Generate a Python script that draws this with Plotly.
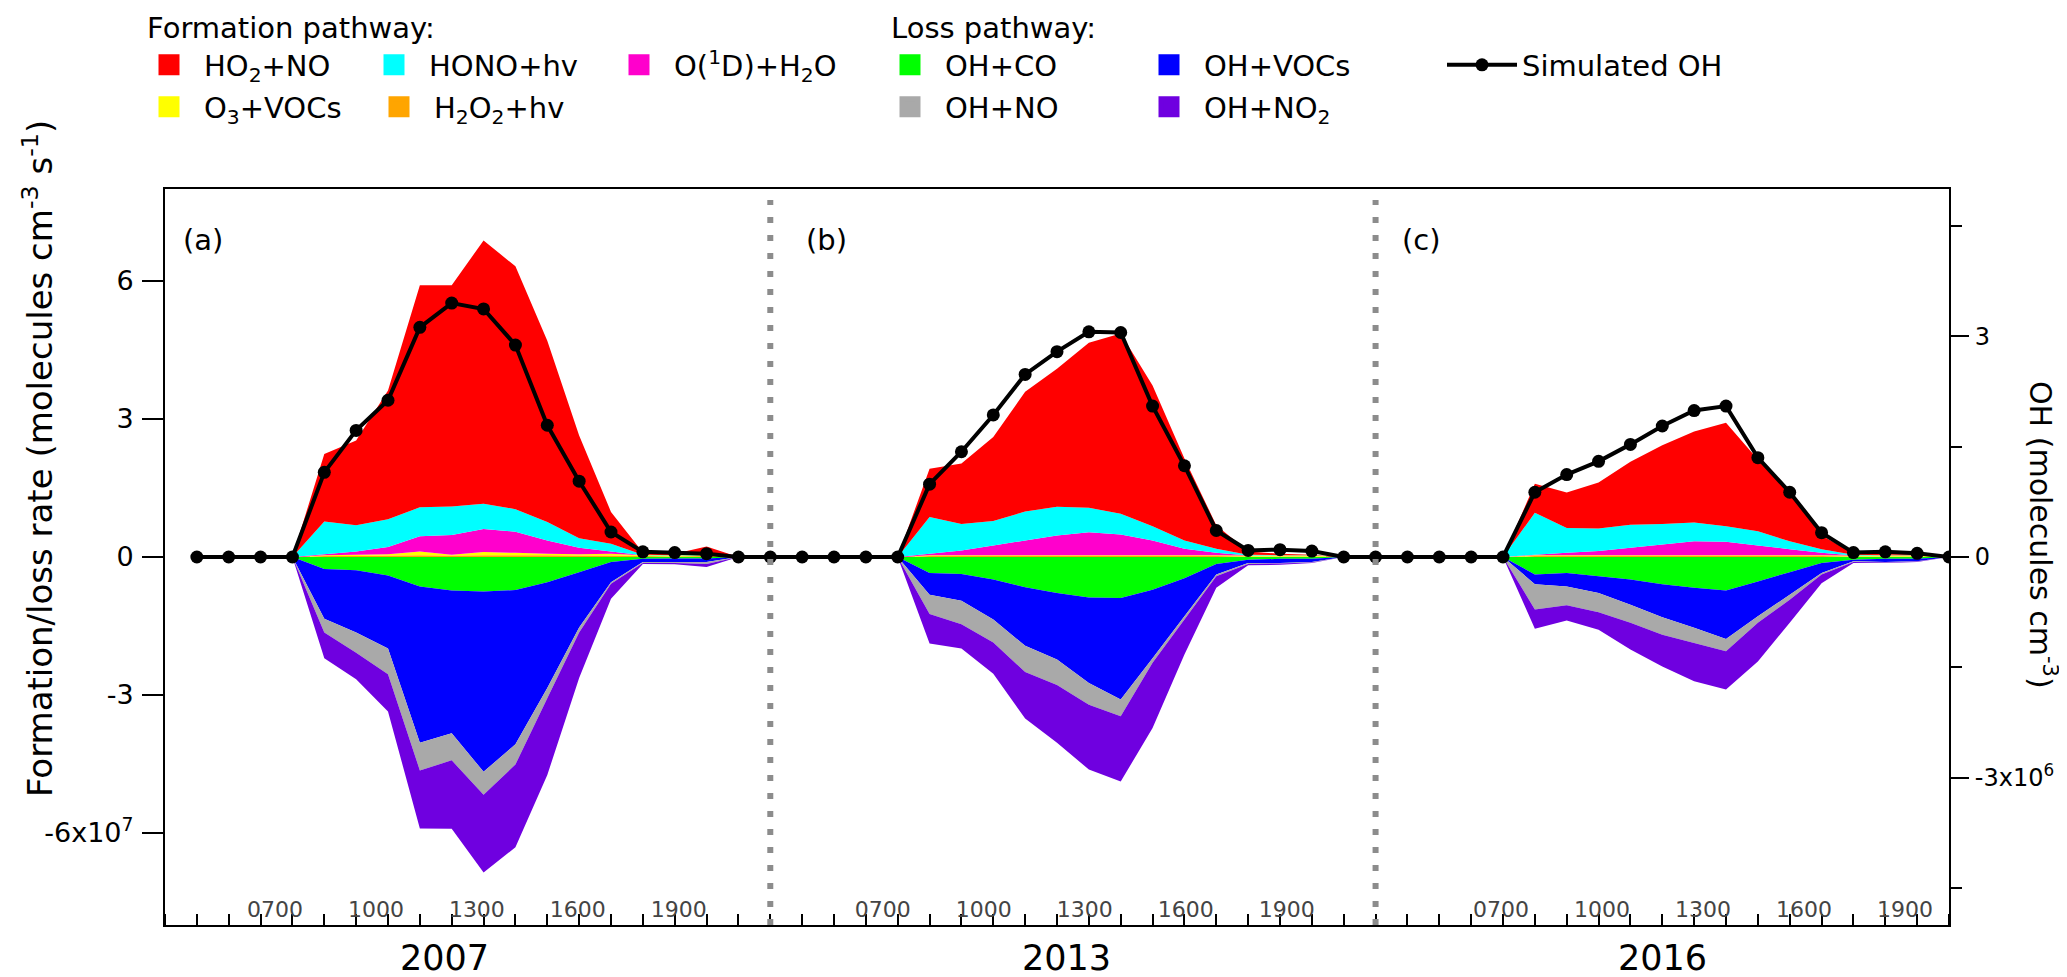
import plotly.graph_objects as go

# ---------------- data ----------------
HOURS = [4, 5, 6, 7, 8, 9, 10, 11, 12, 13, 14, 15, 16, 17, 18, 19, 20, 21]
YEARS = ["2007", "2013", "2016"]
PANEL_TAGS = ["(a)", "(b)", "(c)"]
HOUR_LABELS = ["0700", "1000", "1300", "1600", "1900"]

# formation rates, 1e7 molecules cm-3 s-1, one list per year (2007, 2013, 2016)
HO2_NO = [
    [0, 0, 0, 0, 1.47, 1.84, 2.80, 4.83, 4.81, 5.72, 5.28, 3.94, 2.23, 0.69, 0.05, 0.03, 0.18, 0],
    [0, 0, 0, 0, 1.05, 1.31, 1.83, 2.60, 3.00, 3.59, 3.92, 3.06, 1.78, 0.51, 0.07, 0.03, 0.01, 0],
    [0, 0, 0, 0, 0.63, 0.77, 1.00, 1.37, 1.71, 1.98, 2.25, 1.56, 1.04, 0.30, 0.03, 0.02, 0.02, 0],
]
HONO_HV = [
    [0, 0, 0, 0, 0.71, 0.57, 0.60, 0.63, 0.62, 0.55, 0.49, 0.40, 0.21, 0.17, 0.01, 0.01, 0.01, 0],
    [0, 0, 0, 0, 0.80, 0.58, 0.53, 0.63, 0.62, 0.53, 0.45, 0.31, 0.18, 0.09, 0.02, 0.01, 0.01, 0],
    [0, 0, 0, 0, 0.91, 0.54, 0.49, 0.50, 0.45, 0.41, 0.34, 0.31, 0.17, 0.08, 0.02, 0.01, 0.01, 0],
]
O1D_H2O = [
    [0, 0, 0, 0, 0.02, 0.07, 0.16, 0.33, 0.43, 0.50, 0.46, 0.29, 0.14, 0.05, 0, 0, 0, 0],
    [0, 0, 0, 0, 0.03, 0.10, 0.21, 0.32, 0.43, 0.50, 0.45, 0.32, 0.14, 0.05, 0, 0, 0, 0],
    [0, 0, 0, 0, 0.01, 0.05, 0.09, 0.16, 0.23, 0.30, 0.29, 0.21, 0.13, 0.05, 0, 0, 0, 0],
]
O3_VOCS = [
    [0, 0, 0, 0, 0.02, 0.03, 0.03, 0.08, 0.02, 0.07, 0.05, 0.03, 0.03, 0.04, 0.02, 0.02, 0.02, 0],
    [0, 0, 0, 0, 0.02, 0.02, 0.02, 0.02, 0.02, 0.02, 0.02, 0.02, 0.02, 0.02, 0.02, 0.02, 0.02, 0],
    [0, 0, 0, 0, 0.02, 0.02, 0.02, 0.02, 0.02, 0.02, 0.02, 0.02, 0.02, 0.02, 0.02, 0.02, 0.02, 0],
]
H2O2_HV = [
    [0, 0, 0, 0, 0.02, 0.02, 0.03, 0.04, 0.03, 0.04, 0.04, 0.04, 0.03, 0.03, 0.02, 0.01, 0.02, 0],
    [0, 0, 0, 0, 0.02, 0.02, 0.02, 0.02, 0.02, 0.02, 0.02, 0.02, 0.02, 0.02, 0.01, 0.01, 0.01, 0],
    [0, 0, 0, 0, 0.02, 0.02, 0.02, 0.02, 0.02, 0.02, 0.02, 0.02, 0.02, 0.02, 0.01, 0.01, 0.01, 0],
]
# loss rates (magnitude), 1e7 molecules cm-3 s-1
OH_CO = [
    [0, 0, 0, 0, 0.26, 0.29, 0.40, 0.64, 0.73, 0.75, 0.72, 0.55, 0.33, 0.11, 0.04, 0.03, 0.03, 0],
    [0, 0, 0, 0, 0.35, 0.37, 0.49, 0.66, 0.78, 0.88, 0.89, 0.71, 0.46, 0.15, 0.06, 0.04, 0.04, 0],
    [0, 0, 0, 0, 0.38, 0.35, 0.42, 0.49, 0.59, 0.67, 0.73, 0.53, 0.33, 0.13, 0.06, 0.04, 0.04, 0],
]
OH_VOCS = [
    [0, 0, 0, 0, 1.08, 1.35, 1.59, 3.40, 3.10, 3.92, 3.35, 2.30, 1.20, 0.44, 0.07, 0.08, 0.08, 0],
    [0, 0, 0, 0, 0.47, 0.58, 0.87, 1.27, 1.45, 1.86, 2.21, 1.49, 0.83, 0.23, 0.07, 0.09, 0.07, 0],
    [0, 0, 0, 0, 0.21, 0.29, 0.36, 0.55, 0.72, 0.87, 1.05, 0.76, 0.49, 0.22, 0.03, 0.07, 0.05, 0],
]
OH_NO = [
    [0, 0, 0, 0, 0.30, 0.44, 0.56, 0.60, 0.59, 0.50, 0.44, 0.22, 0.11, 0.03, 0.02, 0.02, 0.04, 0],
    [0, 0, 0, 0, 0.42, 0.51, 0.50, 0.57, 0.55, 0.47, 0.36, 0.10, 0.07, 0.04, 0.02, 0.01, 0.01, 0],
    [0, 0, 0, 0, 0.55, 0.41, 0.42, 0.39, 0.38, 0.33, 0.27, 0.14, 0.11, 0.03, 0.02, 0.01, 0.01, 0],
]
OH_NO2 = [
    [0, 0, 0, 0, 0.56, 0.58, 0.81, 1.26, 1.49, 1.69, 1.80, 1.67, 0.99, 0.33, 0.02, 0.03, 0.07, 0],
    [0, 0, 0, 0, 0.64, 0.53, 0.68, 1.01, 1.26, 1.41, 1.42, 1.42, 0.76, 0.25, 0.03, 0.03, 0.01, 0],
    [0, 0, 0, 0, 0.42, 0.33, 0.38, 0.58, 0.69, 0.83, 0.83, 0.84, 0.50, 0.19, 0.02, 0.01, 0.01, 0],
]
# simulated OH, 1e6 molecules cm-3
SIM_OH = [
    [0, 0, 0, 0, 1.15, 1.72, 2.13, 3.12, 3.45, 3.37, 2.88, 1.79, 1.03, 0.34, 0.07, 0.06, 0.045, 0],
    [0, 0, 0, 0, 0.99, 1.43, 1.93, 2.48, 2.79, 3.06, 3.05, 2.05, 1.24, 0.36, 0.09, 0.10, 0.08, 0],
    [0, 0, 0, 0, 0.88, 1.12, 1.30, 1.53, 1.78, 1.99, 2.05, 1.35, 0.88, 0.33, 0.06, 0.07, 0.05, 0],
]
SEPARATOR_VALUE = 0  # value at the dotted separators between years

# ---------------- layout constants ----------------
FONT = "DejaVu Sans"
W, H = 2067, 977
ML, MR, MT, MB = 157, 126, 181, 60
PANEL_OFFSETS = [0, 19, 38]          # start of each year on the running hour axis
LABEL_SHIFT = [-0.55, -0.47, -0.06]  # horizontal placement of hour labels per panel
LABEL_STEP = 3.17
YEAR_POS = [7.76, 27.3, 46.0]
TAG_POS = [-0.5, 19.07, 37.76]


def running(panels, sign=1):
    xs, ys = [], []
    for i, (off, vals) in enumerate(zip(PANEL_OFFSETS, panels)):
        if i > 0:
            xs.append(off - 1)
            ys.append(SEPARATOR_VALUE)
        xs += [off + h - HOURS[0] for h in HOURS]
        ys += [sign * v for v in vals]
    return xs, ys


fig = go.Figure()

formation = [
    ("H<sub>2</sub>O<sub>2</sub>+hv", H2O2_HV, "#FFA500"),
    ("O<sub>3</sub>+VOCs", O3_VOCS, "#FFFF00"),
    ("O(<sup>1</sup>D)+H<sub>2</sub>O", O1D_H2O, "#FF00CC"),
    ("HONO+hv", HONO_HV, "#00FFFF"),
    ("HO<sub>2</sub>+NO", HO2_NO, "#FF0000"),
]
loss = [
    ("OH+CO", OH_CO, "#00FF00"),
    ("OH+VOCs", OH_VOCS, "#0000FF"),
    ("OH+NO", OH_NO, "#A9A9A9"),
    ("OH+NO<sub>2</sub>", OH_NO2, "#6F00E0"),
]
colors = {}
for name, data, col in formation:
    x, y = running(data)
    colors[name] = col
    fig.add_trace(go.Scatter(x=x, y=y, stackgroup="form", mode="none", fillcolor=col,
                             line=dict(width=0), showlegend=False, name=name))
for name, data, col in loss:
    x, y = running(data, -1)
    colors[name] = col
    fig.add_trace(go.Scatter(x=x, y=y, stackgroup="loss", mode="none", fillcolor=col,
                             line=dict(width=0), showlegend=False, name=name))

# legend entries (square swatches)
legend_rows = [
    ("legend", ["HO<sub>2</sub>+NO", "HONO+hv", "O(<sup>1</sup>D)+H<sub>2</sub>O"], [150, 170, 170]),
    ("legend2", ["O<sub>3</sub>+VOCs", "H<sub>2</sub>O<sub>2</sub>+hv"], [155, 155]),
    ("legend3", ["OH+CO", "OH+VOCs"], [184, 184]),
    ("legend4", ["OH+NO", "OH+NO<sub>2</sub>"], [184, 184]),
]
for leg, names, widths in legend_rows:
    for nm, lw in zip(names, widths):
        c = colors[nm]
        fig.add_trace(go.Scatter(x=[None], y=[None], mode="markers", name=nm, legend=leg,
                                 legendwidth=lw,
                                 marker=dict(symbol="square", size=16, color=c,
                                             line=dict(color=c, width=5))))

ox, oy = running(SIM_OH)
fig.add_trace(go.Scatter(x=ox, y=oy, yaxis="y2", mode="lines+markers", name="Simulated OH",
                         legend="legend5",
                         line=dict(color="black", width=4),
                         marker=dict(color="black", size=13)))

# separators
for off in PANEL_OFFSETS[1:]:
    fig.add_shape(type="line", xref="x", yref="paper", x0=off - 1, x1=off - 1, y0=0, y1=0.985,
                  line=dict(color="#8C8C8C", width=6, dash="6px,12px"), layer="above")

label_x, label_t = [], []
for off, sh in zip(PANEL_OFFSETS, LABEL_SHIFT):
    for k, lab in enumerate(HOUR_LABELS):
        label_x.append(off + 3 + sh + k * LABEL_STEP)
        label_t.append(lab)

fig.update_layout(
    width=W, height=H,
    margin=dict(l=ML, r=MR, t=MT, b=MB, autoexpand=False),
    paper_bgcolor="white", plot_bgcolor="white",
    font=dict(family=FONT, color="black", size=28),
    xaxis=dict(range=[-1, 55], showgrid=False, zeroline=False, showline=True,
               linecolor="black", linewidth=2, mirror=True,
               tickmode="array", tickvals=label_x, ticktext=label_t, ticks="",
               ticklabelposition="inside", ticklabelstandoff=5,
               tickfont=dict(size=22, family=FONT),
               minor=dict(tickmode="linear", tick0=0, dtick=1, ticks="inside",
                          ticklen=11, tickwidth=2, tickcolor="black", showgrid=False)),
    yaxis=dict(range=[-8, 8], showgrid=False, zeroline=False, showline=True,
               linecolor="black", linewidth=2,
               tickmode="array", tickvals=[-6, -3, 0, 3, 6],
               ticktext=["-6x10<sup>7</sup>", "-3", "0", "3", "6"],
               ticks="outside", ticklen=21, tickwidth=2, tickcolor="black",
               tickfont=dict(size=27, family=FONT), ticklabelstandoff=3),
    yaxis2=dict(range=[-5, 5], overlaying="y", side="right", showgrid=False, zeroline=False,
                showline=True, linecolor="black", linewidth=2,
                tickmode="array", tickvals=[-3, 0, 3],
                ticktext=["-3x10<sup>6</sup>", "0", "3"],
                ticks="outside", ticklen=18, tickwidth=2, tickcolor="black",
                tickfont=dict(size=24, family=FONT), ticklabelstandoff=1,
                minor=dict(tickmode="array", tickvals=[-4.5, -1.5, 1.5, 4.5], ticks="outside",
                           ticklen=11, tickwidth=2, tickcolor="black", showgrid=False)),
    showlegend=True,
)

leg_common = dict(orientation="h", xref="container", yref="container", xanchor="left",
                  yanchor="middle", bgcolor="rgba(0,0,0,0)", borderwidth=0,
                  traceorder="normal",
                  font=dict(size=29, family=FONT), itemwidth=60, entrywidthmode="pixels",
                  itemclick=False, itemdoubleclick=False, tracegroupgap=0)
fig.update_layout(
    legend=dict(x=126 / W, y=1 - 57 / H, **leg_common),
    legend2=dict(x=126 / W, y=1 - 99 / H, **leg_common),
    legend3=dict(x=867 / W, y=1 - 57 / H, **leg_common),
    legend4=dict(x=867 / W, y=1 - 99 / H, **leg_common),
    legend5=dict(x=1434 / W, y=1 - 57 / H, **{**leg_common, "itemwidth": 70}),
)

pw = W - ML - MR
ph = H - MT - MB
ann = []
ann.append(dict(text="Formation pathway:", xref="paper", yref="paper",
                x=(137 - ML) / pw, y=(H - MB - 20) / ph, xanchor="left", yanchor="middle",
                showarrow=False, font=dict(size=29, family=FONT)))
ann.append(dict(text="Loss pathway:", xref="paper", yref="paper",
                x=(881 - ML) / pw, y=(H - MB - 20) / ph, xanchor="left", yanchor="middle",
                showarrow=False, font=dict(size=29, family=FONT)))
ann.append(dict(text="Formation/loss rate (molecules cm<sup>-3</sup> s<sup>-1</sup>)",
                xref="paper", yref="paper", x=(30 - ML) / pw, y=(H - MB - 451) / ph,
                textangle=-90, xanchor="center", yanchor="middle", showarrow=False,
                font=dict(size=34, family=FONT)))
ann.append(dict(text="OH (molecules cm<sup>-3</sup>)",
                xref="paper", yref="paper", x=(2035 - ML) / pw, y=(H - MB - 527) / ph,
                textangle=90, xanchor="center", yanchor="middle", showarrow=False,
                font=dict(size=30, family=FONT)))
for yr, xp in zip(YEARS, YEAR_POS):
    ann.append(dict(text=yr, xref="x", yref="paper", x=xp, y=(H - MB - 950) / ph,
                    xanchor="center", yanchor="middle", showarrow=False,
                    font=dict(size=35, family=FONT)))
for tg, xp in zip(PANEL_TAGS, TAG_POS):
    ann.append(dict(text=tg, xref="x", yref="paper", x=xp, y=(H - MB - 232) / ph,
                    xanchor="left", yanchor="middle", showarrow=False,
                    font=dict(size=29, family=FONT)))
fig.update_layout(annotations=ann)

fig.write_html("out.html")
